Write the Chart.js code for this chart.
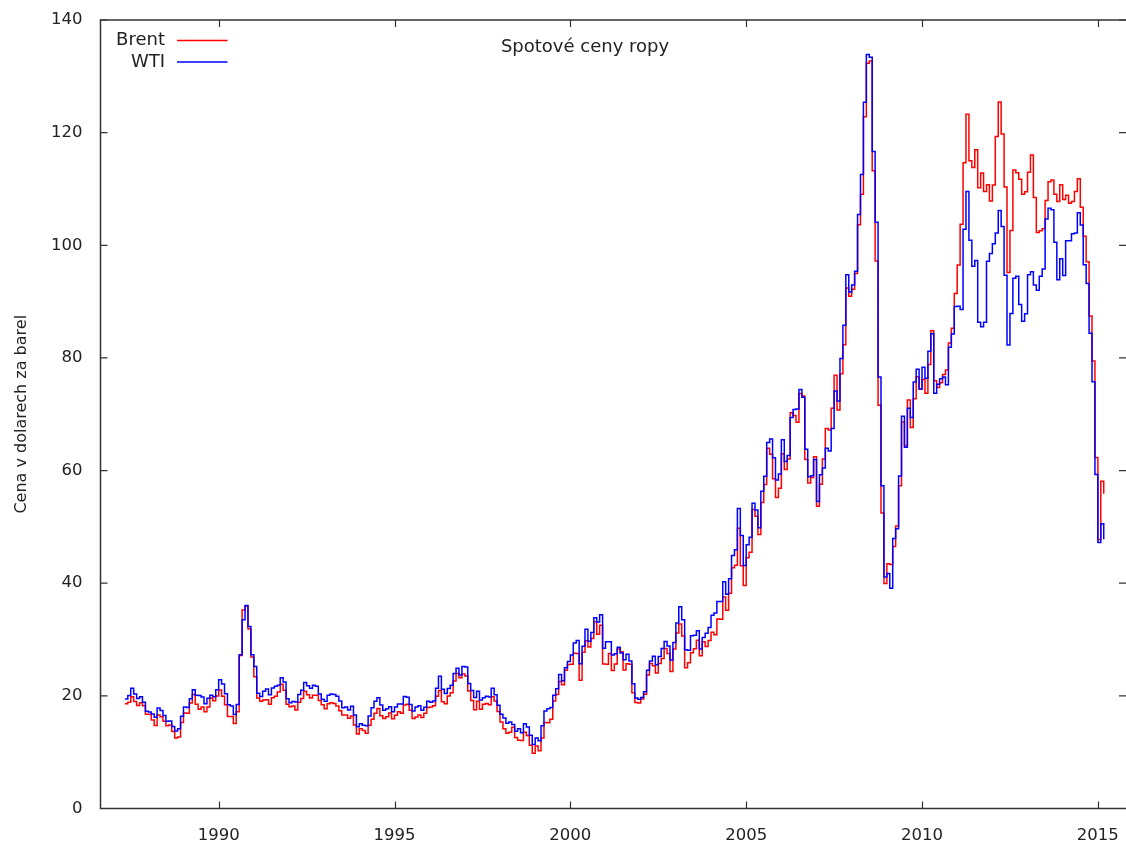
<!DOCTYPE html>
<html>
<head>
<meta charset="utf-8">
<title>Spotové ceny ropy</title>
<script src="https://cdn.jsdelivr.net/npm/chart.js@4.4.1/dist/chart.umd.min.js"></script>
<style>
  html, body { margin: 0; padding: 0; background: #ffffff; }
  #wrap { width: 1126px; height: 841px; }
</style>
</head>
<body>
<div id="wrap"><canvas id="chart" width="1126" height="841"></canvas></div>
<script>
// Monthly average spot prices (USD per barrel), first month May 1987
const startYear = 1987;
const startMonth = 5;

const brent = [
  18.58, 18.86, 19.86, 18.98, 18.31, 18.76, 18.23, 16.74,                        // 1987
  16.75, 15.73, 14.73, 16.60, 16.31, 15.49, 14.71, 14.83, 13.69, 12.51, 12.69, 15.26, // 1988
  16.97, 16.93, 18.72, 20.22, 18.51, 17.60, 18.04, 17.16, 18.02, 19.61, 19.14, 19.98, // 1989
  21.03, 19.94, 18.41, 16.34, 16.35, 15.10, 17.17, 27.17, 35.23, 35.92, 31.88, 26.89, // 1990
  23.40, 19.63, 19.06, 19.27, 19.31, 18.52, 19.67, 19.95, 20.69, 22.05, 20.99, 18.51, // 1991
  18.05, 18.22, 17.51, 18.88, 19.51, 20.82, 20.18, 19.62, 20.12, 20.11, 19.17, 18.41, // 1992
  17.72, 18.61, 18.77, 18.63, 18.18, 17.36, 16.58, 16.62, 16.01, 16.43, 14.82, 13.23, // 1993
  14.16, 13.87, 13.38, 14.77, 15.86, 16.90, 17.76, 16.48, 15.97, 16.27, 16.96, 15.95, // 1994
  16.54, 17.20, 16.92, 18.38, 18.53, 17.45, 15.97, 16.24, 16.61, 16.16, 16.89, 17.95, // 1995
  18.03, 18.26, 19.94, 20.97, 18.97, 18.58, 19.99, 20.57, 22.63, 23.99, 23.20, 23.86, // 1996
  23.54, 20.86, 19.18, 17.55, 19.05, 17.61, 18.50, 18.64, 18.40, 19.85, 19.10, 17.23, // 1997
  15.35, 14.16, 13.36, 13.52, 14.42, 12.60, 12.13, 12.06, 13.53, 12.97, 11.22, 9.80,  // 1998
  11.08, 10.27, 12.51, 15.29, 15.23, 15.86, 19.08, 20.22, 22.53, 21.99, 24.54, 25.56, // 1999
  25.59, 27.56, 27.50, 22.76, 27.74, 29.80, 28.68, 30.20, 33.14, 30.96, 32.55, 25.66, // 2000
  25.62, 27.50, 24.50, 25.66, 28.31, 27.85, 24.61, 25.68, 25.62, 20.54, 18.80, 18.71, // 2001
  19.42, 20.28, 23.70, 25.73, 25.35, 24.08, 25.74, 26.65, 28.40, 27.54, 24.34, 28.33, // 2002
  31.18, 32.77, 30.61, 25.00, 25.86, 27.65, 28.35, 29.89, 27.11, 29.61, 28.75, 29.81, // 2003
  31.28, 30.86, 33.63, 33.59, 37.57, 35.18, 38.22, 42.74, 43.20, 49.78, 43.11, 39.60, // 2004
  44.51, 45.48, 53.10, 51.88, 48.65, 54.35, 57.52, 63.98, 62.91, 58.54, 55.24, 56.86, // 2005
  62.99, 60.21, 62.06, 70.26, 69.78, 68.56, 73.67, 73.23, 61.96, 57.81, 58.76, 62.47, // 2006
  53.68, 57.56, 62.05, 67.49, 67.21, 71.05, 76.93, 70.76, 77.17, 82.34, 92.41, 90.93, // 2007
  92.18, 94.99, 103.64, 109.07, 122.80, 132.32, 132.72, 113.24, 97.23, 71.58, 52.45, 39.95, // 2008
  43.44, 43.32, 46.54, 50.18, 57.30, 68.61, 64.44, 72.51, 67.65, 72.77, 76.66, 74.46, // 2009
  76.17, 73.75, 78.83, 84.82, 75.95, 74.76, 75.58, 77.04, 77.84, 82.67, 85.28, 91.45, // 2010
  96.52, 103.72, 114.64, 123.26, 114.99, 113.83, 116.97, 110.22, 112.83, 109.55, 110.77, 107.87, // 2011
  110.69, 119.33, 125.45, 119.75, 110.34, 95.16, 102.62, 113.36, 112.86, 111.71, 109.06, 109.49, // 2012
  112.96, 116.05, 108.47, 102.25, 102.56, 102.92, 107.93, 111.28, 111.60, 109.08, 107.79, 110.76, // 2013
  108.12, 108.90, 107.48, 107.76, 109.54, 111.80, 106.77, 101.61, 97.09, 87.43, 79.44, 62.34, // 2014
  47.76, 58.10, 55.89                                                              // 2015
];

const wti = [
  19.44, 20.07, 21.34, 20.31, 19.53, 19.86, 18.85, 17.28,                        // 1987
  17.13, 16.80, 16.20, 17.86, 17.42, 16.53, 15.50, 15.52, 14.54, 13.77, 14.14, 16.38, // 1988
  18.02, 17.94, 19.48, 21.07, 20.12, 20.05, 19.78, 18.58, 19.59, 20.10, 19.86, 21.10, // 1989
  22.86, 22.11, 20.39, 18.43, 18.20, 16.70, 18.45, 27.31, 33.51, 36.04, 32.33, 27.28, // 1990
  25.23, 20.48, 19.90, 20.83, 21.23, 20.19, 21.40, 21.69, 21.89, 23.23, 22.46, 19.50, // 1991
  18.79, 19.01, 18.92, 20.23, 20.98, 22.39, 21.78, 21.34, 21.88, 21.69, 20.34, 19.41, // 1992
  19.03, 20.09, 20.32, 20.25, 19.95, 19.09, 17.89, 18.01, 17.50, 18.15, 16.61, 14.52, // 1993
  15.03, 14.78, 14.68, 16.42, 17.89, 19.06, 19.65, 18.38, 17.45, 17.72, 18.07, 17.16, // 1994
  18.04, 18.57, 18.54, 19.90, 19.74, 18.45, 17.33, 18.02, 18.23, 17.43, 17.99, 19.03, // 1995
  18.85, 19.09, 21.33, 23.50, 21.17, 20.42, 21.30, 21.90, 23.97, 24.88, 23.71, 25.23, // 1996
  25.13, 22.18, 20.97, 19.70, 20.82, 19.26, 19.66, 19.95, 19.80, 21.33, 20.19, 18.33, // 1997
  16.72, 16.06, 15.12, 15.35, 14.91, 13.72, 14.17, 13.47, 15.03, 14.46, 13.00, 11.35, // 1998
  12.52, 12.01, 14.68, 17.31, 17.72, 17.92, 20.10, 21.28, 23.80, 22.69, 25.00, 26.10, // 1999
  27.26, 29.37, 29.84, 25.72, 28.79, 31.82, 29.70, 31.26, 33.88, 33.11, 34.42, 28.44, // 2000
  29.59, 29.61, 27.25, 27.49, 28.63, 27.60, 26.43, 27.37, 26.20, 22.17, 19.64, 19.39, // 2001
  19.72, 20.72, 24.53, 26.18, 27.04, 25.52, 26.97, 28.39, 29.66, 28.84, 26.35, 29.46, // 2002
  32.95, 35.83, 33.51, 28.17, 28.11, 30.66, 30.76, 31.57, 28.31, 30.34, 31.11, 32.13, // 2003
  34.31, 34.69, 36.74, 36.75, 40.28, 38.03, 40.78, 44.90, 45.94, 53.28, 48.47, 43.15, // 2004
  46.84, 48.15, 54.19, 52.98, 49.83, 56.35, 59.00, 64.99, 65.59, 62.26, 58.32, 59.41, // 2005
  65.49, 61.63, 62.69, 69.44, 70.84, 70.95, 74.41, 73.04, 63.80, 58.89, 59.08, 61.96, // 2006
  54.51, 59.28, 60.44, 63.98, 63.46, 67.49, 74.12, 72.36, 79.92, 85.80, 94.77, 91.69, // 2007
  92.97, 95.39, 105.45, 112.58, 125.40, 133.88, 133.37, 116.67, 104.11, 76.61, 57.31, 41.12, // 2008
  41.71, 39.09, 47.94, 49.65, 59.03, 69.64, 64.15, 71.05, 69.41, 75.72, 77.99, 74.47, // 2009
  78.33, 76.39, 81.20, 84.29, 73.74, 75.34, 76.32, 76.60, 75.24, 81.89, 84.25, 89.15, // 2010
  89.17, 88.58, 102.86, 109.53, 100.90, 96.26, 97.30, 86.33, 85.52, 86.32, 97.16, 98.56, // 2011
  100.27, 102.20, 106.16, 103.32, 94.66, 82.30, 87.90, 94.13, 94.51, 89.49, 86.53, 87.86, // 2012
  94.76, 95.31, 92.94, 92.02, 94.51, 95.77, 104.67, 106.57, 106.29, 100.54, 93.86, 97.63, // 2013
  94.62, 100.82, 100.80, 102.07, 102.18, 105.79, 103.59, 96.54, 93.21, 84.40, 75.79, 59.29, // 2014
  47.22, 50.58, 47.82                                                              // 2015
];

const seriesNames = ['Brent', 'WTI'];
const seriesColors = ['#ff0000', '#0000ff'];
const yearTicks = [1990, 1995, 2000, 2005, 2010, 2015];
const priceTicks = [0, 20, 40, 60, 80, 100, 120, 140];
const chartTitle = 'Spotové ceny ropy';
const yAxisTitle = 'Cena v dolarech za barel';

// decimal-year x position for the i-th month of the series
const monthX = i => startYear + (startMonth - 1 + i) / 12;
const toPoints = arr => arr.map((v, i) => ({ x: monthX(i), y: v }));

const FONT = 'DejaVu Sans';
const TEXT = '#222222';

// gnuplot-like frame with inward ticks on all four sides, plus the title and key
const framePlugin = {
  id: 'frameAndKey',
  afterDatasetsDraw(chart) {
    const { ctx, chartArea: a, scales } = chart;
    const xs = scales.x, ys = scales.y;
    const tick = 7;
    ctx.save();
    ctx.strokeStyle = '#333333';
    ctx.lineWidth = 1.5;
    ctx.beginPath();
    ctx.moveTo(a.right + 1, a.top);
    ctx.lineTo(a.left, a.top);
    ctx.lineTo(a.left, a.bottom);
    ctx.lineTo(a.right + 1, a.bottom);
    ctx.stroke();

    ctx.lineWidth = 1.2;
    ctx.beginPath();
    yearTicks.forEach(v => {
      const px = Math.round(xs.getPixelForValue(v)) + 0.5;
      ctx.moveTo(px, a.bottom); ctx.lineTo(px, a.bottom - tick);
      ctx.moveTo(px, a.top); ctx.lineTo(px, a.top + tick);
    });
    priceTicks.forEach(v => {
      const py = ys.getPixelForValue(v);
      ctx.moveTo(a.left, py); ctx.lineTo(a.left + tick, py);
      ctx.moveTo(a.right, py); ctx.lineTo(a.right - tick, py);
    });
    ctx.stroke();
    ctx.restore();
  },
  afterDraw(chart) {
    const { ctx, chartArea: a } = chart;
    ctx.save();
    ctx.fillStyle = TEXT;
    // title inside the plot
    ctx.font = `18px "${FONT}"`;
    ctx.textAlign = 'center';
    ctx.textBaseline = 'middle';
    ctx.fillText(chartTitle, 585, a.top + 27);

    // key in the upper left corner
    chart.data.datasets.forEach((ds, i) => {
      const y = a.top + 20.5 + i * 21.5;
      ctx.fillStyle = TEXT;
      ctx.font = `18px "${FONT}"`;
      ctx.textAlign = 'right';
      ctx.fillText(ds.label, a.left + 64.5, y);
      ctx.strokeStyle = ds.borderColor;
      ctx.lineWidth = 1.5;
      ctx.beginPath();
      ctx.moveTo(a.left + 76.5, y);
      ctx.lineTo(a.left + 127, y);
      ctx.stroke();
    });
    ctx.restore();
  }
};

Chart.defaults.font.family = FONT;
Chart.defaults.color = TEXT;

new Chart(document.getElementById('chart'), {
  type: 'line',
  data: {
    datasets: [
      { label: seriesNames[0], data: toPoints(brent), borderColor: seriesColors[0],
        borderWidth: 1.5, stepped: true, pointRadius: 0, fill: false, order: 2 },
      { label: seriesNames[1], data: toPoints(wti), borderColor: seriesColors[1],
        borderWidth: 1.5, stepped: true, pointRadius: 0, fill: false, order: 1 }
    ]
  },
  options: {
    responsive: false,
    devicePixelRatio: 1,
    animation: false,
    layout: { padding: { top: 20, right: 0, bottom: 0, left: 0 } },
    plugins: {
      legend: { display: false },
      tooltip: { enabled: false },
      title: { display: false }
    },
    scales: {
      x: {
        type: 'linear',
        min: 1986.64,
        max: 2015.80,
        grid: { display: false },
        border: { display: false },
        afterBuildTicks: s => { s.ticks = yearTicks.map(v => ({ value: v })); },
        afterFit: s => { s.height = 32.5; s.paddingLeft = 0; s.paddingRight = 0; },
        ticks: {
          font: { size: 16.5 },
          color: TEXT,
          padding: 9,
          maxRotation: 0,
          autoSkip: false,
          callback: v => String(v)
        }
      },
      y: {
        type: 'linear',
        min: 0,
        max: 140,
        grid: { display: false },
        border: { display: false },
        afterBuildTicks: s => { s.ticks = priceTicks.map(v => ({ value: v })); },
        afterFit: s => { s.width = 100.5; s.paddingTop = 0; s.paddingBottom = 0; },
        ticks: {
          font: { size: 16.5 },
          color: TEXT,
          padding: 10,
          callback: v => String(v)
        },
        title: {
          display: true,
          text: yAxisTitle,
          font: { size: 16 },
          color: TEXT,
          padding: { top: 12.4, bottom: 0 }
        }
      }
    }
  },
  plugins: [framePlugin]
});
</script>
</body>
</html>
